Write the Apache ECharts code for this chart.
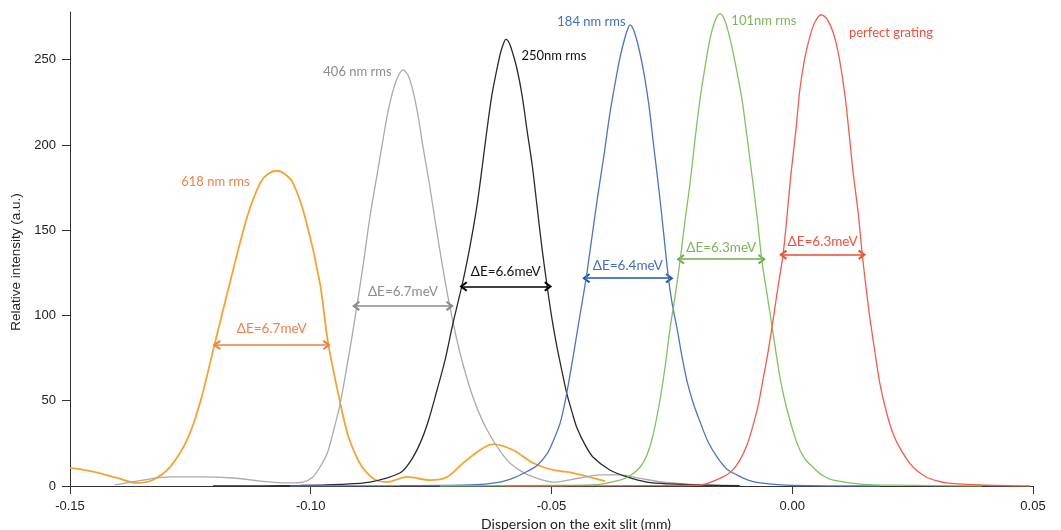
<!DOCTYPE html>
<html>
<head>
<meta charset="utf-8">
<script src="https://cdn.jsdelivr.net/npm/echarts@6/dist/echarts.min.js"></script>
<style>
html,body{margin:0;padding:0;background:#fff;}
#c{width:1061px;height:530px;}
</style>
</head>
<body>
<div id="c"></div>
<script>
// ---- data ----
const xTicks = [-0.15, -0.10, -0.05, 0.00, 0.05];
const yTicks = [0, 50, 100, 150, 200, 250];

const orangeX = [-0.15,-0.1452,-0.1402,-0.1361,-0.1328,-0.1292,-0.1257,-0.1230,-0.1199,-0.1168,-0.1132,-0.1105,-0.1089,-0.1070,-0.1054,-0.1037,-0.1012,-0.0981,-0.0964,-0.0939,-0.0923,-0.0908,-0.0894,-0.0879,-0.0865,-0.0842,-0.0800,-0.0752,-0.0717,-0.0676,-0.0621,-0.0580,-0.0538,-0.0497,-0.0455,-0.0389];
const orangeY = [10.6,8.4,4.7,1.8,3.5,11.2,27,48.7,83.9,119.1,157.9,177.8,183,184.9,183,177.8,157.9,119.1,83.9,49,30,19,11.5,6.5,3.5,2.3,5.3,3.5,5.3,15.3,24.6,21.1,13.5,9.4,7.6,2.9];

const grayX = [-0.1407,-0.1348,-0.1292,-0.1230,-0.1161,-0.1105,-0.1049,-0.1016,-0.0997,-0.0981,-0.0966,-0.0954,-0.0939,-0.0925,-0.0914,-0.0904,-0.0891,-0.0877,-0.0862,-0.0850,-0.0840,-0.0830,-0.0819,-0.0808,-0.0798,-0.0788,-0.0777,-0.0767,-0.0754,-0.0742,-0.0727,-0.0711,-0.0690,-0.0663,-0.0634,-0.0592,-0.0565,-0.0538,-0.0497,-0.0441,-0.0399,-0.0358,-0.0316,-0.0275,-0.0212,-0.0150];
const grayY = [0.6,3.5,5.3,5.3,4.7,2.9,1.8,2.3,5,11,19,31,48,70,88,106,130,158,183,203,219,231,240,244,241,232,217,199,178,156,130,105,78,52,33,15,9,5.3,2.3,4.7,6.5,6.5,4.5,2.5,1,0.3];

const blackX = [-0.1203,-0.1022,-0.0939,-0.0877,-0.0815,-0.0794,-0.0773,-0.0756,-0.0738,-0.0721,-0.0705,-0.0684,-0.0669,-0.0655,-0.0644,-0.0634,-0.0624,-0.0613,-0.0605,-0.0599,-0.0595,-0.0590,-0.0584,-0.0572,-0.0561,-0.0551,-0.0540,-0.0530,-0.0520,-0.0509,-0.0499,-0.0489,-0.0478,-0.0468,-0.0457,-0.0447,-0.0430,-0.0414,-0.0379,-0.0343,-0.0302,-0.0254,-0.0192,-0.0109];
const blackY = [0,0.3,1,2.3,7.6,14,25,38,56,74,95,120,141,164,187,209,229,245,255,260,262,261,257,245,229,209,188,164,140,117,98,82,67,54,43,34,24,17,9.4,5.3,2.3,1.2,0.6,0.2];

const blueX = [-0.1043,-0.0815,-0.0669,-0.0607,-0.0576,-0.0551,-0.0530,-0.0509,-0.0497,-0.0482,-0.0470,-0.0455,-0.0441,-0.0428,-0.0416,-0.0404,-0.0391,-0.0379,-0.0368,-0.0358,-0.0347,-0.0341,-0.0337,-0.0333,-0.0327,-0.0318,-0.0308,-0.0298,-0.0288,-0.0277,-0.0267,-0.0258,-0.0250,-0.0239,-0.0229,-0.0219,-0.0206,-0.0192,-0.0175,-0.0156,-0.0136,-0.0115,-0.0092,-0.0067,0.0002,0.0182];
const blueY = [0,0.2,0.6,2.3,5,8.5,12,19,26,37,52,76,100,122,146,170,194,218,236,251,263.5,268.5,270.5,269.5,265.5,256,242,224,200,174,148,124,108,92,76,62,49,38,26,17,10,6.5,3.5,1.8,0.3,0];

const greenX = [-0.0732,-0.0482,-0.0414,-0.0358,-0.0337,-0.0316,-0.0302,-0.0289,-0.0275,-0.0264,-0.0254,-0.0244,-0.0233,-0.0223,-0.0212,-0.0202,-0.0192,-0.0181,-0.0171,-0.0160,-0.0150,-0.0140,-0.0129,-0.0117,-0.0104,-0.0094,-0.0084,-0.0073,-0.0063,-0.0052,-0.0040,-0.0025,-0.0011,0.0010,0.0026,0.0043,0.0064,0.0085,0.0147,0.0218,0.0394];
const greenY = [0,0.3,0.6,3.5,6,11,18,30,50,70,92,110,132,155,178,203,226,246,262,273,277,273,262,246,226,205,183,158,132,112,90,63,45,25,16,11,6,3.5,1,0.5,0];

const redX = [-0.0597,-0.0295,-0.0192,-0.0144,-0.0125,-0.0109,-0.0094,-0.0082,-0.0071,-0.0061,-0.0050,-0.0040,-0.0030,-0.0019,-0.0011,-0.0003,0.0008,0.0016,0.0026,0.0037,0.0047,0.0060,0.0072,0.0085,0.0097,0.0110,0.0118,0.0126,0.0137,0.0145,0.0153,0.0161,0.0172,0.0182,0.0195,0.0209,0.0226,0.0245,0.0261,0.0280,0.0301,0.0321,0.0390,0.0494];
const redY = [0,0.2,0.6,5.3,9,15,24,35,47,62,79,97,116,136,158,182,210,233,251,264,272,276.4,274,266,252,228,207,185,160,137,117,99,78,60,44,31,21,13,8.5,5,3,1.8,0.6,0];

// curve names (peak labels) and their anchor positions in data units
const peakNames = ['618 nm rms','406 nm rms','250nm rms','184 nm rms','101nm rms','perfect grating'];
const peakLabelX = [-0.1198,-0.0903,-0.0495,-0.0417,-0.0059,0.0205];
const peakLabelY = [178.4,243,252.3,272.3,272.9,265.8];

// resolution arrows (FWHM) and their labels
const deltaE = ['ΔE=6.7meV','ΔE=6.7meV','ΔE=6.6meV','ΔE=6.4meV','ΔE=6.3meV','ΔE=6.3meV'];
const arrowX1 = [-0.1195,-0.0906,-0.0683,-0.0428,-0.0232,-0.0019];
const arrowX2 = [-0.0967,-0.0711,-0.0507,-0.0255,-0.0063,0.0145];
const arrowY  = [82.7,105.6,117,121.9,133,135.6];

// ---- styling ----
const curveColors = ['#f5a52c','#aaaaaa','#2a2a2a','#4a74c9','#7dc45c','#f25c48'];
const curveWidths = [1.8,1.3,1.3,1.3,1.3,1.3];
const textColors  = ['#ef8247','#8c8c8c','#111111','#3f6dc8','#7cb556','#f0513b'];
const arrowColors = ['#f07e3c','#8a8a8a','#000000','#1f56b3','#6eab48','#ef4b30'];
const labelDist   = [9,7,8,6,5,6];

const seriesXs = [orangeX, grayX, blackX, blueX, greenX, redX];
const seriesYs = [orangeY, grayY, blackY, blueY, greenY, redY];

const chevron = 'path://M5,0 L10,6.2 L8.4,7.4 L5,3.2 L1.6,7.4 L0,6.2 Z';

const series = seriesXs.map((xs, i) => ({
  type: 'line',
  name: peakNames[i],
  data: xs.map((x, k) => [x, seriesYs[i][k]]),
  showSymbol: false,
  smooth: 0.3,
  lineStyle: { color: curveColors[i], width: curveWidths[i] },
  itemStyle: { color: curveColors[i] },
  silent: true,
  z: 2 + i,
  markPoint: {
    silent: true,
    symbol: 'circle',
    symbolSize: 0,
    label: {
      show: true,
      position: 'inside',
      formatter: peakNames[i],
      color: textColors[i],
      fontFamily: 'Lato',
      fontSize: 13
    },
    data: [{ coord: [peakLabelX[i], peakLabelY[i]] }]
  },
  markLine: {
    silent: true,
    symbol: [chevron, chevron],
    symbolSize: [10, 8],
    lineStyle: { color: arrowColors[i], width: 1.6, type: 'solid' },
    label: {
      show: true,
      position: 'middle',
      formatter: deltaE[i],
      color: textColors[i],
      fontFamily: 'Lato',
      fontSize: 13.5,
      distance: labelDist[i]
    },
    data: [[{ coord: [arrowX1[i], arrowY[i]] }, { coord: [arrowX2[i], arrowY[i]] }]]
  }
}));

const chart = echarts.init(document.getElementById('c'), null, { renderer: 'canvas' });
chart.setOption({
  animation: false,
  backgroundColor: '#ffffff',
  grid: { left: 70, right: 28, top: 12, bottom: 44, containLabel: false, outerBoundsMode: 'none' },
  xAxis: {
    type: 'value',
    min: xTicks[0],
    max: xTicks[xTicks.length - 1],
    interval: 0.05,
    name: 'Dispersion on the exit slit (mm)',
    nameLocation: 'middle',
    nameGap: 29,
    nameTextStyle: { fontFamily: 'Lato', fontSize: 14, color: '#222', padding: [0, 0, 0, 49] },
    axisLine: { onZero: false, lineStyle: { color: '#333', width: 1 } },
    axisTick: { show: true, length: 8, lineStyle: { color: '#333' } },
    axisLabel: {
      margin: 14,
      fontFamily: 'Liberation Sans',
      fontSize: 13,
      color: '#222',
      formatter: v => v.toFixed(2),
      customValues: xTicks
    },
    splitLine: { show: false }
  },
  yAxis: {
    type: 'value',
    min: 0,
    max: 278,
    interval: 50,
    name: 'Relative intensity (a.u.)',
    nameLocation: 'middle',
    nameGap: 45,
    nameTextStyle: { fontFamily: 'Liberation Sans', fontSize: 13.5, color: '#222', padding: [0, 26, 0, 0] },
    axisLine: { show: true, onZero: false, lineStyle: { color: '#333', width: 1 } },
    axisTick: { show: true, length: 8, lineStyle: { color: '#333' }, customValues: yTicks },
    axisLabel: {
      margin: 14,
      fontFamily: 'Liberation Sans',
      fontSize: 13,
      color: '#222',
      customValues: yTicks,
      formatter: v => (v % 50 === 0 ? String(v) : '')
    },
    splitLine: { show: false }
  },
  series: series
});
</script>
</body>
</html>
